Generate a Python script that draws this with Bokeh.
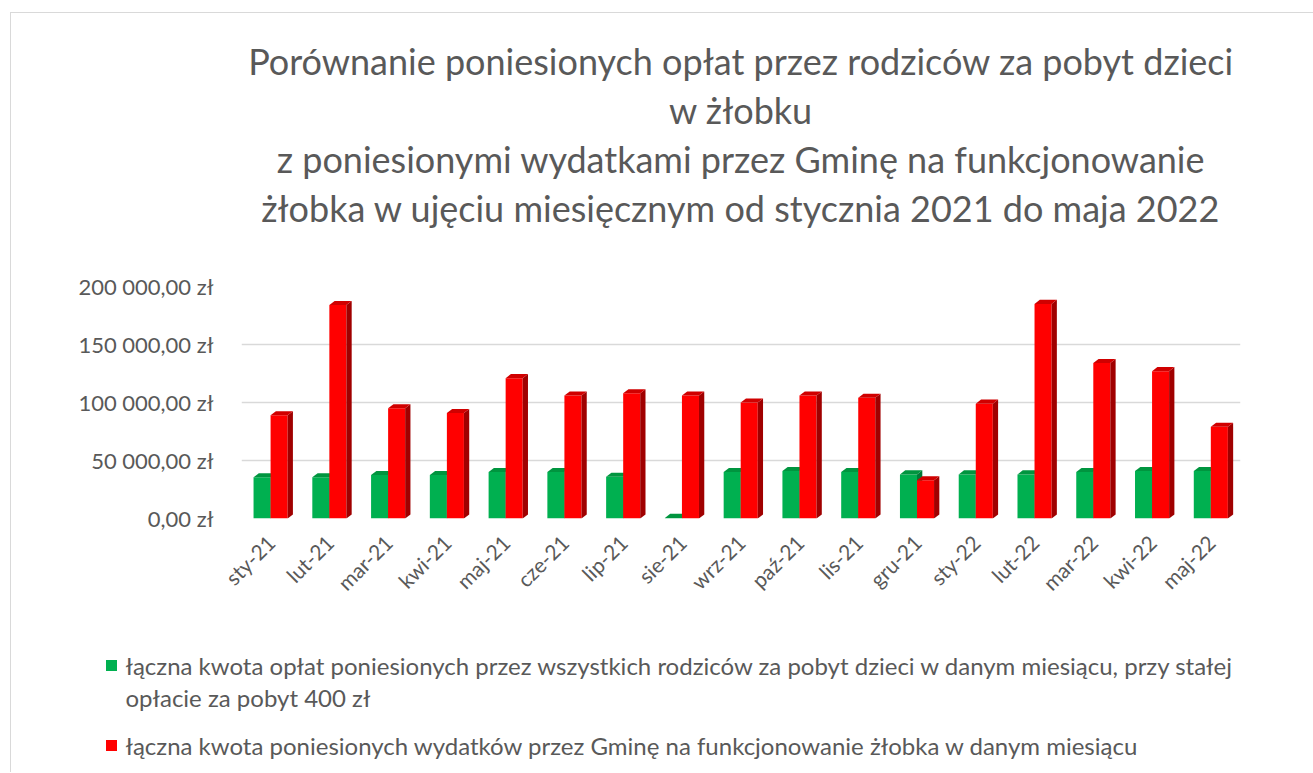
import numpy as np
from bokeh.plotting import figure
from bokeh.layouts import column
from bokeh.models import FixedTicker, Range1d, Title
from bokeh.embed import file_html
from bokeh.resources import INLINE

months = ["sty-21", "lut-21", "mar-21", "kwi-21", "maj-21", "cze-21", "lip-21", "sie-21",
          "wrz-21", "paź-21", "lis-21", "gru-21", "sty-22", "lut-22", "mar-22", "kwi-22", "maj-22"]
fees = [35500, 35500, 37500, 37500, 40000, 40000, 36000, 500,
        40000, 41000, 40000, 38000, 38000, 38000, 40000, 41000, 41000]
costs = [89000, 184000, 95000, 91000, 121000, 106000, 108000, 106000,
         100000, 106000, 104000, 33000, 99000, 185000, 134000, 127000, 79000]
y_ticks = [0, 50000, 100000, 150000, 200000]
y_tick_labels = ["0,00 zł", "50 000,00 zł", "100 000,00 zł", "150 000,00 zł", "200 000,00 zł"]
series_names = [
    "łączna kwota opłat poniesionych przez wszystkich rodziców za pobyt dzieci w danym miesiącu, przy stałej",
    "opłacie za pobyt 400 zł",
    "łączna kwota poniesionych wydatków przez Gminę na funkcjonowanie żłobka w danym miesiącu",
]
title_lines = [
    "Porównanie poniesionych opłat przez rodziców za pobyt dzieci",
    "w żłobku",
    "z poniesionymi wydatkami przez Gminę na funkcjonowanie",
    "żłobka w ujęciu miesięcznym od stycznia 2021 do maja 2022",
]

FONT = "Lato"
TXT = "#595959"
GREEN, GREEN_SIDE, GREEN_TOP = "#00B050", "#007A37", "#00953F"
RED, RED_SIDE, RED_TOP = "#FF0000", "#A00000", "#D00000"

W = 1302
H1, H2 = 607, 152
p = figure(width=W, height=H1, output_backend="svg", toolbar_location=None,
           min_border_left=230, min_border_right=73, min_border_top=273, min_border_bottom=102,
           x_range=Range1d(-0.5, 16.5), y_range=Range1d(0, 200000))
p.outline_line_color = None
p.xgrid.grid_line_color = None
p.ygrid.grid_line_color = "#D9D9D9"
p.ygrid.grid_line_width = 1.5

x = np.arange(len(months))
bw = 0.29
dx = 0.09
dy = 3500


def bar3d(centers, vals, front, side, top):
    left = centers - bw / 2
    right = centers + bw / 2
    vals = np.asarray(vals, dtype=float)
    p.vbar(x=centers, top=vals, width=bw, fill_color=front, line_color=None)
    p.patches(xs=[[rr, rr + dx, rr + dx, rr] for rr in right],
              ys=[[0, dy, v + dy, v] for v in vals], fill_color=side, line_color=None)
    p.patches(xs=[[l, rr, rr + dx, l + dx] for l, rr in zip(left, right)],
              ys=[[v, v, v + dy, v + dy] for v in vals], fill_color=top, line_color=None)


bar3d(x - 0.15, fees, GREEN, GREEN_SIDE, GREEN_TOP)
bar3d(x + 0.14, costs, RED, RED_SIDE, RED_TOP)

p.yaxis.ticker = FixedTicker(ticks=y_ticks)
p.yaxis.major_label_overrides = {t: l for t, l in zip(y_ticks, y_tick_labels)}
p.xaxis.ticker = FixedTicker(ticks=list(x))
p.xaxis.major_label_overrides = {int(i): m for i, m in zip(x, months)}
p.xaxis.major_label_orientation = np.pi / 4
for ax in (p.xaxis[0], p.yaxis[0]):
    ax.axis_line_color = None
    ax.major_tick_line_color = None
    ax.minor_tick_line_color = None
    ax.major_label_text_font = FONT
    ax.major_label_text_color = TXT
p.xaxis.major_label_text_font_size = "21px"
p.yaxis.major_label_text_font_size = "22px"
p.yaxis.major_label_standoff = 22
p.xaxis.major_label_standoff = 14

# spacer between the plot and the title block, then title lines (nearest-to-plot first)
p.add_layout(Title(text=" ", text_font_size="1px", standoff=52), "above")
for txt in reversed(title_lines):
    p.add_layout(Title(text=txt, align="center", standoff=3,
                       text_font=FONT, text_font_size="36px", text_font_style="normal",
                       text_color=TXT), "above")

# legend panel as its own figure (pixel coordinates, y downward)
lg = figure(width=W, height=H2, output_backend="svg", toolbar_location=None,
            min_border=0, x_range=Range1d(0, W), y_range=Range1d(H2, 0))
for fig in (p, lg):
    if "frame_align" in fig.properties():
        fig.frame_align = False
lg.axis.visible = False
lg.grid.visible = False
lg.outline_line_color = None
leg_colors = [GREEN, None, RED]
leg_x_marker, leg_x_text = 100, 114
leg_y = [45, 77, 125]
for name, col, yy in zip(series_names, leg_colors, leg_y):
    if col is not None:
        lg.scatter(x=[leg_x_marker], y=[yy], marker="square", size=11,
                   fill_color=col, line_color=None)
    lg.text(x=[leg_x_text], y=[yy], text=[name], text_font={"value": FONT},
            text_font_size="24px", text_color=TXT, text_baseline="middle", text_align="left")

layout = column(p, lg, spacing=0)
layout.margin = (12, 0, 0, 10)
layout.styles = {"border-top": "1px solid #D9D9D9", "border-left": "1px solid #D9D9D9"}

open("out.html", "w").write(file_html(layout, INLINE))
